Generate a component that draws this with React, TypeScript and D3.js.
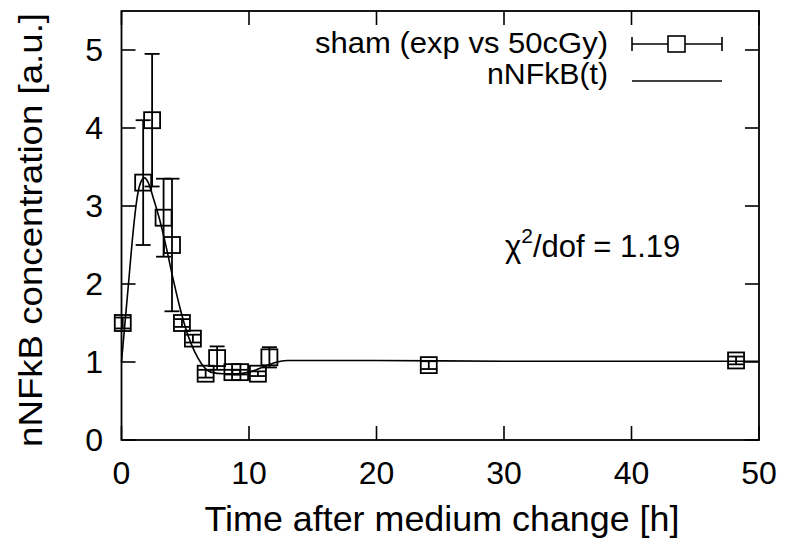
import React from "react";
import { scaleLinear, line, curveMonotoneX } from "d3";

// measured nNFkB, sham (exp vs 50cGy)
const timeH = [0.1, 1.7, 2.4, 3.3, 3.96, 4.74, 5.6, 6.6, 7.5, 8.7, 9.3, 10.7, 11.6, 24.1, 48.2];
const conc = [1.5, 3.3, 4.1, 2.85, 2.5, 1.5, 1.3, 0.85, 1.05, 0.87, 0.87, 0.85, 1.06, 0.96, 1.02];
const concErr = [0.07, 0.8, 0.85, 0.5, 0.85, 0.05, 0.05, 0.05, 0.15, 0.03, 0.03, 0.03, 0.13, 0.05, 0.05];

// model curve nNFkB(t)
const fitT = [0, 0.3, 0.6, 0.9, 1.2, 1.5, 1.8, 2.1, 2.5, 3.0, 3.5, 4.0, 4.5, 5.0, 5.5, 6.0, 6.5, 7.0, 8.0, 9.0, 10.0, 11.0, 12.0, 13.0, 15.0, 20.0, 30.0, 40.0, 50.0];
const fitC = [1.0, 1.55, 2.1, 2.65, 3.08, 3.3, 3.36, 3.3, 3.1, 2.82, 2.48, 2.1, 1.75, 1.45, 1.22, 1.05, 0.93, 0.87, 0.85, 0.85, 0.87, 0.93, 0.99, 1.02, 1.02, 1.02, 1.01, 1.01, 1.01];

const xTicks = [0, 10, 20, 30, 40, 50];
const yTicks = [0, 1, 2, 3, 4, 5];

const W = 785;
const H = 539;
const font = "'Liberation Sans', Arial, Helvetica, sans-serif";

export default function App() {
  const left = 121.5, right = 759, top = 11, bottom = 440;
  const x = scaleLinear().domain([0, 50]).range([left, right]);
  const y = scaleLinear().domain([0, 5.5]).range([bottom, top]);
  const tick = 14;
  const sq = 16;
  const cap = 7.5;

  const fitPath = line<number>()
    .x((d, i) => x(fitT[i]))
    .y((d) => y(d))
    .curve(curveMonotoneX)(fitC);

  return (
    <svg width={W} height={H} style={{ position: "absolute", left: 0, top: 0, background: "#fff" }}>
      <g stroke="#000" strokeWidth={1.6} fill="none">
        {/* ticks, mirrored like gnuplot */}
        {yTicks.map((t) => (
          <g key={"y" + t}>
            <line x1={left} x2={left + tick} y1={y(t)} y2={y(t)} />
            <line x1={right} x2={right - tick} y1={y(t)} y2={y(t)} />
          </g>
        ))}
        {xTicks.map((t) => (
          <g key={"x" + t}>
            <line x1={x(t)} x2={x(t)} y1={bottom} y2={bottom - tick} />
            <line x1={x(t)} x2={x(t)} y1={top} y2={top + tick} />
          </g>
        ))}
        <rect x={left} y={top} width={right - left} height={bottom - top} strokeWidth={1.8} />
      </g>

      <g fontFamily={font} fontSize={32} fill="#000">
        {yTicks.map((t) => (
          <text key={t} x={103} y={y(t) + 11} textAnchor="end">{t}</text>
        ))}
        {xTicks.map((t) => (
          <text key={t} x={x(t)} y={484} textAnchor="middle">{t}</text>
        ))}
      </g>

      <text x={442} y={531} fontFamily={font} fontSize={35} textAnchor="middle" textLength={475} lengthAdjust="spacingAndGlyphs">
        Time after medium change [h]
      </text>
      <text transform="translate(42,230) rotate(-90)" fontFamily={font} fontSize={33} textAnchor="middle" textLength={434} lengthAdjust="spacingAndGlyphs">
        nNFkB concentration [a.u.]
      </text>

      {/* fit curve */}
      <path d={fitPath || ""} fill="none" stroke="#000" strokeWidth={1.6} />

      {/* data with error bars */}
      <g stroke="#000" strokeWidth={1.8} fill="none">
        {timeH.map((t, i) => {
          const cx = x(t);
          const cy = y(conc[i]);
          const y1 = y(conc[i] + concErr[i]);
          const y2 = y(conc[i] - concErr[i]);
          return (
            <g key={i}>
              <line x1={cx} x2={cx} y1={y1} y2={y2} />
              <line x1={cx - cap} x2={cx + cap} y1={y1} y2={y1} />
              <line x1={cx - cap} x2={cx + cap} y1={y2} y2={y2} />
              <rect x={cx - sq / 2} y={cy - sq / 2} width={sq} height={sq} />
            </g>
          );
        })}
      </g>

      {/* legend */}
      <g fontFamily={font} fontSize={29} textAnchor="end">
        <text x={608} y={53} textLength={293} lengthAdjust="spacingAndGlyphs">sham (exp vs 50cGy)</text>
        <text x={608} y={84} textLength={121} lengthAdjust="spacingAndGlyphs">nNFkB(t)</text>
      </g>
      <g stroke="#000" strokeWidth={1.6} fill="none">
        <line x1={632} x2={722} y1={44} y2={44} />
        <line x1={632} x2={632} y1={37} y2={51} />
        <line x1={722} x2={722} y1={37} y2={51} />
        <rect x={668} y={36} width={17} height={16} fill="#fff" />
        <line x1={632} x2={722} y1={81} y2={81} />
      </g>

      <text x={505} y={257} fontFamily={font} fontSize={31}>
        χ<tspan fontSize={21} dy={-14}>2</tspan>
        <tspan dy={14}>/dof = 1.19</tspan>
      </text>
    </svg>
  );
}
